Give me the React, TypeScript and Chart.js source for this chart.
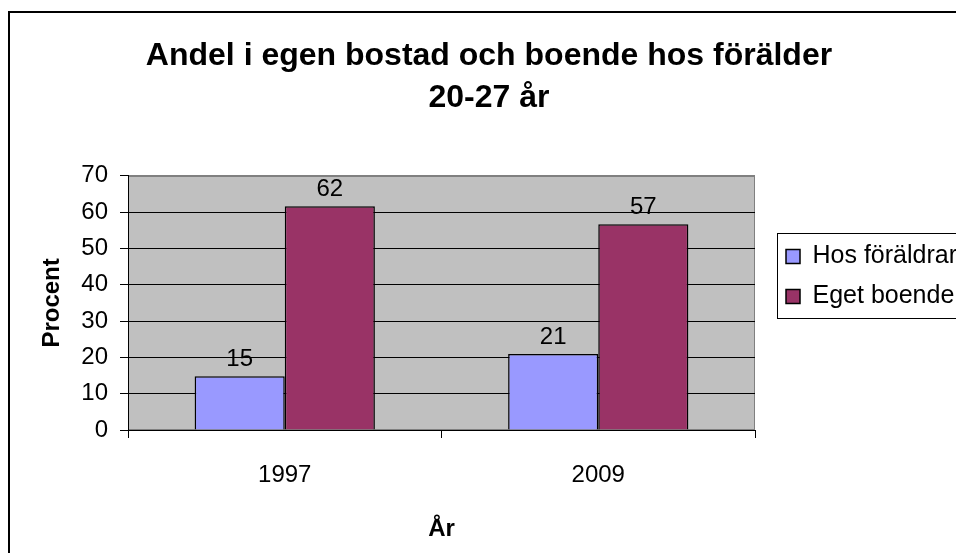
import React, { useEffect, useRef } from 'react';
import { Chart, registerables } from 'chart.js';

Chart.register(...registerables);

const categories = ['1997', '2009'];
const seriesNames = ['Hos föräldrar', 'Eget boende'];
const hosForaldrar = [14.8, 20.9];
const egetBoende = [61.6, 56.7];
const seriesColors = ['#9999FF', '#993366'];
const titleLines = ['Andel i egen bostad och boende hos förälder', '20-27 år'];
const yTitle = 'Procent';
const xTitle = 'År';
const yMin = 0;
const yMax = 70;
const yStep = 10;

const FONT = "'Liberation Sans', Arial, Helvetica, sans-serif";

const framePlugin = {
  id: 'framePlugin',
  beforeDraw(chart: any) {
    const { ctx, chartArea: a } = chart;
    ctx.save();
    ctx.fillStyle = '#ffffff';
    ctx.fillRect(0, 0, chart.width, chart.height);
    ctx.strokeStyle = '#000000';
    ctx.lineWidth = 2;
    ctx.strokeRect(9, 12, chart.width + 40, chart.height + 40);
    ctx.fillStyle = '#C0C0C0';
    ctx.fillRect(a.left, a.top, a.right - a.left, a.bottom - a.top);
    ctx.strokeStyle = '#808080';
    ctx.lineWidth = 1;
    ctx.strokeRect(Math.round(a.left) + 0.5, Math.round(a.top) + 0.5, Math.round(a.right - a.left) - 1, Math.round(a.bottom - a.top) - 1);
    ctx.restore();
  },
};

const legendBorderPlugin = {
  id: 'legendBorderPlugin',
  afterDraw(chart: any) {
    const lg = chart.legend;
    if (!lg || !lg.legendHitBoxes || !lg.legendHitBoxes.length) return;
    const hb = lg.legendHitBoxes;
    const top = hb[0].top - 11;
    const last = hb[hb.length - 1];
    const bottom = last.top + last.height + 9;
    const { ctx } = chart;
    ctx.save();
    ctx.strokeStyle = '#000000';
    ctx.lineWidth = 1;
    ctx.strokeRect(Math.round(hb[0].left - 9) + 0.5, Math.round(top) + 0.5, 500, Math.round(bottom - top));
    ctx.restore();
  },
};

const dataLabelPlugin = {
  id: 'dataLabelPlugin',
  afterDatasetsDraw(chart: any) {
    const { ctx } = chart;
    ctx.save();
    ctx.font = `24px ${FONT}`;
    ctx.fillStyle = '#000000';
    ctx.textAlign = 'center';
    ctx.textBaseline = 'alphabetic';
    chart.data.datasets.forEach((ds: any, i: number) => {
      const meta = chart.getDatasetMeta(i);
      meta.data.forEach((el: any, j: number) => {
        const v = ds.data[j];
        ctx.fillText(String(Math.round(v)), el.x, el.y - 10.5);
      });
    });
    ctx.restore();
  },
};

export default function App() {
  const ref = useRef<HTMLCanvasElement | null>(null);

  useEffect(() => {
    if (!ref.current) return;
    Chart.defaults.font.family = FONT;
    Chart.defaults.color = '#000000';
    const chart = new Chart(ref.current, {
      type: 'bar',
      data: {
        labels: categories,
        datasets: [
          {
            label: seriesNames[0],
            data: hosForaldrar,
            backgroundColor: seriesColors[0],
            borderColor: '#000000',
            borderWidth: 1.5,
            categoryPercentage: 0.575,
            barPercentage: 1.0,
          },
          {
            label: seriesNames[1],
            data: egetBoende,
            backgroundColor: seriesColors[1],
            borderColor: '#000000',
            borderWidth: 1.5,
            categoryPercentage: 0.575,
            barPercentage: 1.0,
          },
        ],
      },
      options: {
        responsive: false,
        animation: false,
        devicePixelRatio: 1,
        layout: { padding: { left: 11, right: 0, top: 0, bottom: 0 } },
        plugins: {
          title: {
            display: true,
            text: titleLines,
            color: '#000000',
            font: { size: 32, weight: 'bold', lineHeight: 1.31 },
            padding: { top: 35, bottom: 57 },
          },
          legend: {
            position: 'right',
            align: 'center',
            maxWidth: 400,
            labels: {
              boxWidth: 14,
              boxHeight: 14,
              padding: 15,
              color: '#000000',
              font: { size: 25 },
            },
          },
          tooltip: { enabled: false },
        },
        scales: {
          x: {
            grid: { drawOnChartArea: false, drawTicks: true, tickLength: 8, color: '#000000', offset: true },
            border: { display: true, color: '#000000' },
            ticks: { padding: 23, font: { size: 24 }, color: '#000000' },
            title: {
              display: true,
              text: xTitle,
              color: '#000000',
              font: { size: 24, weight: 'bold' },
              padding: { top: 0, bottom: 9 },
            },
            afterFit: (s: any) => {
              s.height = 123;
            },
          },
          y: {
            min: yMin,
            max: yMax,
            ticks: { stepSize: yStep, padding: 12, font: { size: 24 }, color: '#000000' },
            grid: {
              color: (c: any) => (c.tick && c.tick.value === yMax ? '#808080' : '#000000'),
              tickColor: '#000000',
              tickLength: 8,
            },
            border: { display: true, color: '#000000' },
            title: {
              display: true,
              text: yTitle,
              color: '#000000',
              font: { size: 24, weight: 'bold' },
              padding: { top: 27, bottom: 0 },
            },
            afterFit: (s: any) => {
              s.width = 117;
            },
          },
          y2: {
            position: 'right',
            display: true,
            grid: { display: false },
            ticks: { display: false },
            border: { display: false },
            afterFit: (s: any) => {
              s.width = 16;
            },
          },
        },
      } as any,
      plugins: [framePlugin, legendBorderPlugin, dataLabelPlugin],
    });
    return () => chart.destroy();
  }, []);

  return (
    <div
      style={{
        position: 'fixed',
        left: 0,
        top: 0,
        width: 956,
        height: 553,
        overflow: 'hidden',
        background: '#ffffff',
      }}
    >
      <canvas ref={ref} width={967} height={553} style={{ display: 'block' }} />
    </div>
  );
}
